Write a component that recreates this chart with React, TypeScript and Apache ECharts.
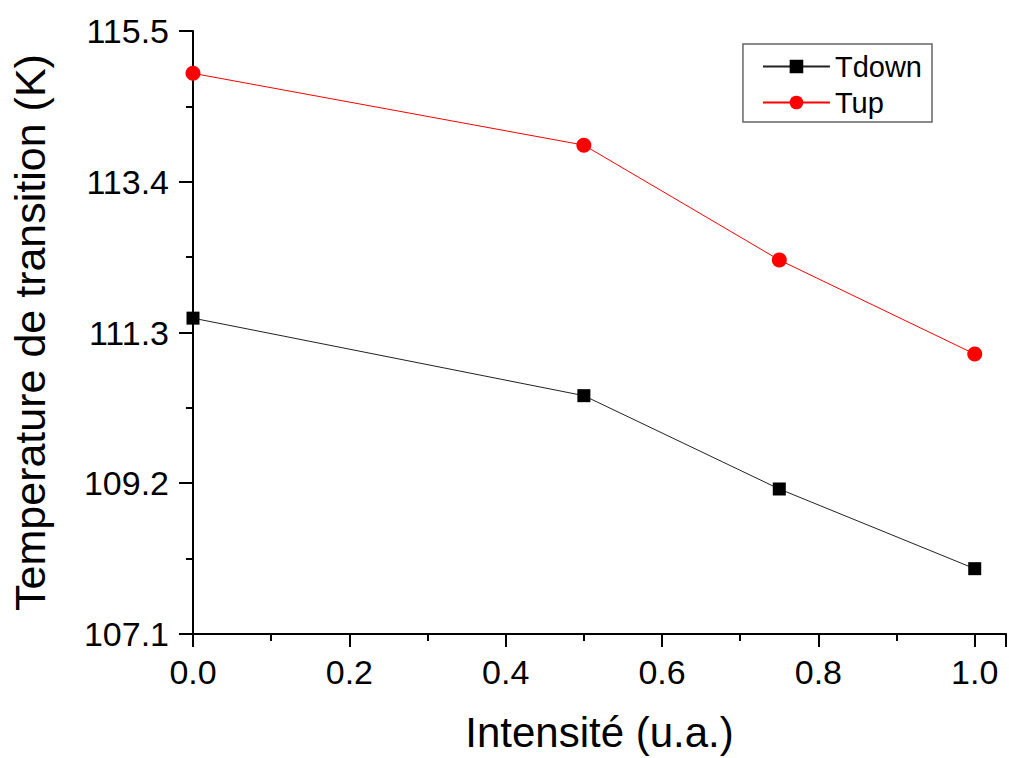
import React, { useEffect, useRef } from "react";
import * as echarts from "echarts";

const intensity = [0, 0.5, 0.75, 1.0];
const tDown = [111.5, 110.42, 109.12, 108.01];
const tUp = [114.91, 113.91, 112.31, 111.0];
const seriesNames = ["Tdown", "Tup"];
const xTitle = "Intensité (u.a.)";
const yTitle = "Temperature de transition (K)";

const FONT = "Liberation Sans, Arial, sans-serif";

export default function App() {
  const ref = useRef<HTMLDivElement>(null);
  useEffect(() => {
    if (!ref.current) return;
    const chart = echarts.init(ref.current, undefined, { renderer: "svg" });
    const pairs = (ys: number[]) => intensity.map((x, i) => [x, ys[i]]);
    chart.setOption({
      animation: false,
      backgroundColor: "#ffffff",
      textStyle: { fontFamily: FONT },
      grid: { left: 192, right: 0, top: 31, bottom: 119 },
      legend: {
        show: true,
        right: 77,
        top: 44,
        orient: "vertical",
        itemWidth: 67,
        itemHeight: 17,
        itemGap: 7,
        padding: [8, 10, 5, 19],
        borderColor: "#666666",
        borderWidth: 1.5,
        textStyle: { fontSize: 29, color: "#000", fontFamily: FONT },
        data: seriesNames,
      },
      xAxis: {
        type: "value",
        min: 0,
        max: 1.04,
        interval: 0.2,
        name: xTitle,
        nameLocation: "middle",
        nameGap: 77,
        nameTextStyle: { fontSize: 42, color: "#000", fontFamily: FONT },
        axisLine: { show: true, onZero: false, lineStyle: { color: "#000", width: 2 } },
        axisTick: { show: true, length: 13, lineStyle: { color: "#000", width: 2 } },
        minorTick: { show: true, splitNumber: 2, length: 7, lineStyle: { color: "#000", width: 2 } },
        splitLine: { show: false },
        axisLabel: {
          fontSize: 34,
          color: "#000",
          margin: 21,
          fontFamily: FONT,
          formatter: (v: number) => (v > 1.001 ? "" : v.toFixed(1)),
        },
      },
      yAxis: {
        type: "value",
        min: 107.1,
        max: 115.5,
        interval: 2.1,
        name: yTitle,
        nameLocation: "middle",
        nameRotate: 90,
        nameGap: 142,
        nameTextStyle: { fontSize: 43, color: "#000", fontFamily: FONT },
        axisLine: { show: true, onZero: false, lineStyle: { color: "#000", width: 2 } },
        axisTick: { show: true, length: 14, lineStyle: { color: "#000", width: 2 } },
        minorTick: { show: true, splitNumber: 2, length: 7, lineStyle: { color: "#000", width: 2 } },
        splitLine: { show: false },
        axisLabel: {
          fontSize: 34,
          color: "#000",
          margin: 24,
          fontFamily: FONT,
          formatter: (v: number) => v.toFixed(1),
        },
      },
      series: [
        {
          name: seriesNames[0],
          type: "line",
          data: pairs(tDown),
          symbol: "rect",
          symbolSize: 13,
          lineStyle: { color: "#222222", width: 1 },
          itemStyle: { color: "#000000" },
          z: 3,
        },
        {
          name: seriesNames[1],
          type: "line",
          data: pairs(tUp),
          symbol: "circle",
          symbolSize: 15,
          lineStyle: { color: "#ff0000", width: 1 },
          itemStyle: { color: "#ff0000" },
          z: 3,
        },
      ],
    });
    return () => chart.dispose();
  }, []);
  return (
    <div
      ref={ref}
      style={{ position: "fixed", left: 0, top: 0, width: 1009, height: 758, background: "#fff" }}
    />
  );
}
